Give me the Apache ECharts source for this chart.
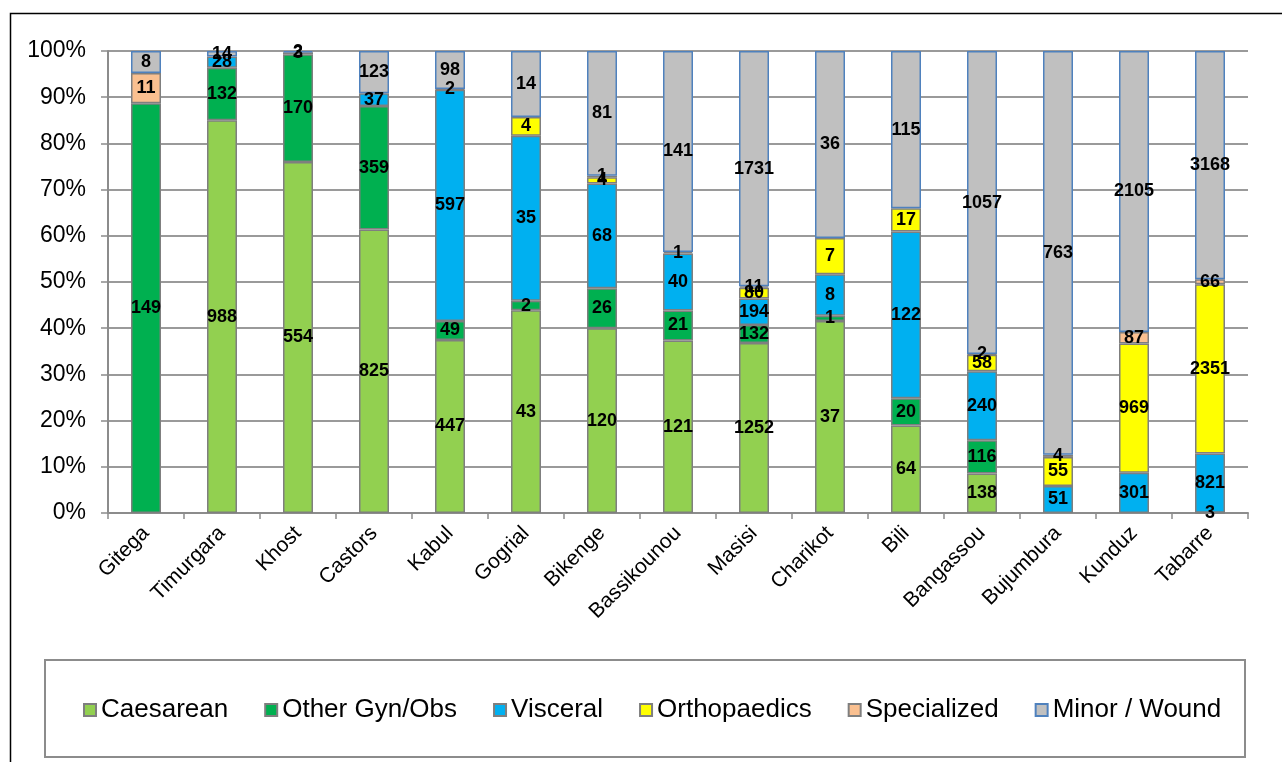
<!DOCTYPE html>
<html>
<head>
<meta charset="utf-8">
<script src="https://cdn.jsdelivr.net/npm/echarts@6/dist/echarts.min.js"></script>
<style>
  html, body { margin: 0; padding: 0; background: #fff; }
  #chart { width: 1282px; height: 762px; }
</style>
</head>
<body>
<div id="chart"></div>
<script>
// Surgical activity by hospital, shown as share of total interventions (counts on the bars)
const categories = ['Gitega', 'Timurgara', 'Khost', 'Castors', 'Kabul', 'Gogrial', 'Bikenge',
  'Bassikounou', 'Masisi', 'Charikot', 'Bili', 'Bangassou', 'Bujumbura', 'Kunduz', 'Tabarre'];

const caesarean   = [null, 988, 554, 825, 447, 43, 120, 121, 1252, 37, 64, 138, null, null, 3];
const otherGynObs = [149, 132, 170, 359, 49, 2, 26, 21, 132, 1, 20, 116, null, null, null];
const visceral    = [null, 28, 3, 37, 597, 35, 68, 40, 194, 8, 122, 240, 51, 301, 821];
const orthopaedics= [null, null, null, null, 2, 4, 4, 1, 80, 7, 17, 58, 55, 969, 2351];
const specialized = [11, null, null, null, null, null, 1, null, 11, null, null, 2, 4, 87, 66];
const minorWound  = [8, 14, 2, 123, 98, 14, 81, 141, 1731, 36, 115, 1057, 763, 2105, 3168];

const seriesNames = ['Caesarean', 'Other Gyn/Obs', 'Visceral', 'Orthopaedics', 'Specialized', 'Minor / Wound'];
const seriesCounts = [caesarean, otherGynObs, visceral, orthopaedics, specialized, minorWound];
const fills = ['#92D050', '#00B050', '#00B0F0', '#FFFF00', '#FAC090', '#C0C0C0'];
const borders = ['#7f7f7f', '#7f7f7f', '#7f7f7f', '#7f7f7f', '#7f7f7f', '#4F81BD'];

const totals = categories.map((_, i) =>
  seriesCounts.reduce((s, arr) => s + (arr[i] || 0), 0));

const FONT = 'Liberation Sans, Arial, sans-serif';

const series = seriesNames.map((name, k) => ({
  name: name,
  type: 'bar',
  stack: 'share',
  barWidth: 30,
  data: seriesCounts[k].map((v, i) => (v == null ? null : v / totals[i])),
  itemStyle: { color: fills[k], borderColor: borders[k], borderWidth: 1.5 },
  label: {
    show: true,
    position: 'inside',
    color: '#000',
    fontFamily: FONT,
    fontWeight: 'bold',
    fontSize: 18,
    formatter: p => String(seriesCounts[k][p.dataIndex])
  },
  emphasis: { disabled: true }
}));

const chart = echarts.init(document.getElementById('chart'), null, { renderer: 'canvas' });
chart.setOption({
  animation: false,
  backgroundColor: '#fff',
  textStyle: { fontFamily: FONT },
  grid: { left: 108, right: 34, top: 51, bottom: 249 },
  legend: {
    data: seriesNames,
    left: 78,
    top: 692,
    itemWidth: 12,
    itemHeight: 12,
    itemGap: 36,
    icon: 'rect',
    textStyle: { fontFamily: FONT, fontSize: 26, color: '#000' }
  },
  xAxis: {
    type: 'category',
    data: categories,
    axisLine: { lineStyle: { color: '#8c8c8c', width: 2 } },
    axisTick: { show: true, alignWithLabel: false, length: 6, lineStyle: { color: '#8c8c8c', width: 1.5 } },
    axisLabel: { rotate: 45, margin: 17, fontFamily: FONT, fontSize: 21, color: '#000', interval: 0 }
  },
  yAxis: {
    type: 'value',
    min: 0,
    max: 1,
    interval: 0.1,
    axisLine: { show: true, lineStyle: { color: '#8c8c8c', width: 2 } },
    axisTick: { show: true, length: 7, lineStyle: { color: '#8c8c8c', width: 1.5 } },
    splitLine: { show: true, lineStyle: { color: '#9a9a9a', width: 2 } },
    axisLabel: {
      margin: 22,
      fontFamily: FONT,
      fontSize: 23,
      color: '#000',
      formatter: v => Math.round(v * 100) + '%'
    }
  },
  graphic: [
    {
      type: 'rect',
      silent: true,
      shape: { x: 10.5, y: 13.5, width: 1300, height: 800 },
      style: { fill: 'none', stroke: '#000', lineWidth: 1.5 }
    },
    {
      type: 'rect',
      silent: true,
      shape: { x: 45, y: 660, width: 1200, height: 97 },
      style: { fill: 'none', stroke: '#8c8c8c', lineWidth: 2 }
    }
  ],
  series: series
});
</script>
</body>
</html>
